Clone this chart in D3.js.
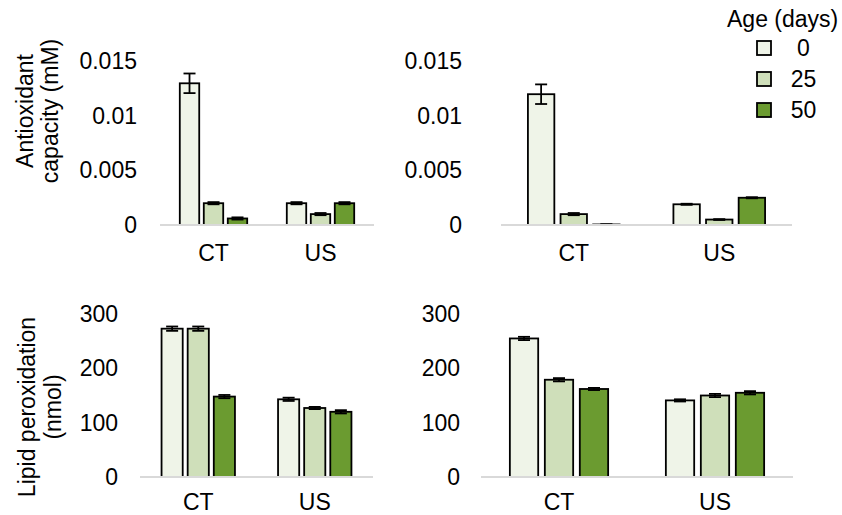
<!DOCTYPE html>
<html>
<head>
<meta charset="utf-8">
<script src="https://cdn.jsdelivr.net/npm/d3@7"></script>
<style>
  body { margin: 0; background: #fff; }
  svg text { font-family: "Liberation Sans", Arial, sans-serif; fill: #000; }
</style>
</head>
<body>
<div id="chart"></div>
<script>
// data
const categories = ['CT', 'US'];
const ages = ['0', '25', '50'];

// [category][age]
const antioxLeftMean = [[0.013, 0.002, 0.0006], [0.002, 0.001, 0.002]];
const antioxLeftErr = [[0.0009, 0.0001, 0.0001], [0.0001, 0.0001, 0.0001]];
const antioxRightMean = [[0.012, 0.001, 0.00005], [0.0019, 0.0005, 0.0025]];
const antioxRightErr = [[0.0009, 0.0001, 0.00002], [0.00005, 0.00004, 0.00005]];
const lipidLeftMean = [[273, 273, 148], [143, 127, 120]];
const lipidLeftErr = [[4, 4, 3], [3, 2, 3]];
const lipidRightMean = [[255, 179, 162], [141, 150, 155]];
const lipidRightErr = [[3, 3, 2], [2, 3, 3]];

const antioxTicks = [0, 0.005, 0.01, 0.015];
const antioxTickLabels = ['0', '0.005', '0.01', '0.015'];
const lipidTicks = [0, 100, 200, 300];
const lipidTickLabels = ['0', '100', '200', '300'];

const colors = ['#eff4e8', '#cfdfba', '#6b9b30'];

const width = 842, height = 515;
const fontSize = 23;

const svg = d3.select('#chart').append('svg')
    .attr('width', width)
    .attr('height', height);

function panel(cfg) {
    const x0 = d3.scaleBand()
        .domain(categories)
        .range(cfg.xRange)
        .paddingInner(0)
        .paddingOuter(0);
    const bw = x0.bandwidth();
    const groupW = bw * 0.63;
    const x1 = d3.scaleBand()
        .domain(ages)
        .range([(bw - groupW) / 2, (bw + groupW) / 2])
        .paddingInner(0.19);

    const y = d3.scaleLinear()
        .domain(cfg.yDomain)
        .range(cfg.yRange);

    const g = svg.append('g');

    // y tick labels only (no axis line)
    const axisY = d3.axisLeft(y)
        .tickValues(cfg.ticks)
        .tickFormat((d, i) => cfg.tickLabels[i])
        .tickSize(0)
        .tickPadding(0);
    const ay = g.append('g')
        .attr('transform', `translate(${cfg.tickRight},0)`)
        .call(axisY);
    ay.select('.domain').remove();
    ay.selectAll('text')
        .style('font-size', fontSize + 'px')
        .attr('font-family', null);

    const rows = [];
    categories.forEach((c, ci) => {
        ages.forEach((a, ai) => {
            rows.push({ cat: c, age: a, ai: ai, v: cfg.mean[ci][ai], e: cfg.err[ci][ai] });
        });
    });

    const base = y(0);
    g.selectAll('rect.bar')
        .data(rows)
        .enter().append('rect')
        .attr('class', 'bar')
        .attr('x', d => x0(d.cat) + x1(d.age))
        .attr('y', d => y(d.v))
        .attr('width', x1.bandwidth())
        .attr('height', d => base - y(d.v))
        .attr('fill', d => colors[d.ai])
        .attr('stroke', '#000')
        .attr('stroke-width', 1.8);

    // error bars
    const cap = 6;
    const eb = g.selectAll('g.err')
        .data(rows)
        .enter().append('g')
        .attr('class', 'err')
        .attr('transform', d => `translate(${x0(d.cat) + x1(d.age) + x1.bandwidth() / 2},0)`);
    eb.append('line')
        .attr('y1', d => y(d.v + d.e)).attr('y2', d => y(d.v - d.e))
        .attr('stroke', '#000').attr('stroke-width', 1.8);
    eb.append('line')
        .attr('x1', -cap).attr('x2', cap)
        .attr('y1', d => y(d.v + d.e)).attr('y2', d => y(d.v + d.e))
        .attr('stroke', '#000').attr('stroke-width', 1.8);
    eb.append('line')
        .attr('x1', -cap).attr('x2', cap)
        .attr('y1', d => y(d.v - d.e)).attr('y2', d => y(d.v - d.e))
        .attr('stroke', '#000').attr('stroke-width', 1.8);

    // baseline
    g.append('line')
        .attr('x1', cfg.xRange[0]).attr('x2', cfg.xRange[1])
        .attr('y1', base).attr('y2', base)
        .attr('stroke', '#d9d9d9')
        .attr('stroke-width', 2);

    // category labels
    const axisX = d3.axisBottom(x0)
        .tickSize(0)
        .tickPadding(cfg.labelPad);
    const ax = g.append('g')
        .attr('transform', `translate(0,${base})`)
        .call(axisX);
    ax.select('.domain').remove();
    ax.selectAll('text')
        .style('font-size', fontSize + 'px')
        .attr('font-family', null);
}

panel({ xRange: [160, 374], yDomain: [0, 0.015], yRange: [225, 61.5], tickRight: 137, labelPad: 20,
        ticks: antioxTicks, tickLabels: antioxTickLabels, mean: antioxLeftMean, err: antioxLeftErr });
panel({ xRange: [501, 792], yDomain: [0, 0.015], yRange: [225, 61.5], tickRight: 462, labelPad: 20,
        ticks: antioxTicks, tickLabels: antioxTickLabels, mean: antioxRightMean, err: antioxRightErr });
panel({ xRange: [140, 373], yDomain: [0, 300], yRange: [477, 314], tickRight: 118, labelPad: 16.5,
        ticks: lipidTicks, tickLabels: lipidTickLabels, mean: lipidLeftMean, err: lipidLeftErr });
panel({ xRange: [481, 793], yDomain: [0, 300], yRange: [477, 314], tickRight: 460, labelPad: 16.5,
        ticks: lipidTicks, tickLabels: lipidTickLabels, mean: lipidRightMean, err: lipidRightErr });

// y axis titles
function yTitle(lines, cx, cy, gap) {
    const t = svg.append('text')
        .attr('transform', `translate(${cx},${cy}) rotate(-90)`)
        .attr('text-anchor', 'middle')
        .style('font-size', fontSize + 'px');
    lines.forEach((l, i) => {
        t.append('tspan')
            .attr('x', 0)
            .attr('y', (i - (lines.length - 1) / 2) * gap)
            .attr('dy', '0.35em')
            .text(l);
    });
}
yTitle(['Antioxidant', 'capacity (mM)'], 37.5, 111, 25);
yTitle(['Lipid peroxidation', '(nmol)'], 40, 407, 26);

// legend
const legend = svg.append('g');
legend.append('text')
    .attr('x', 727).attr('y', 19).attr('dy', '0.35em')
    .style('font-size', fontSize + 'px')
    .text('Age (days)');
const items = legend.selectAll('g.item')
    .data(ages)
    .enter().append('g')
    .attr('class', 'item')
    .attr('transform', (d, i) => `translate(0,${48 + i * 31})`);
items.append('rect')
    .attr('x', 757).attr('y', -7)
    .attr('width', 14).attr('height', 14)
    .attr('fill', (d, i) => colors[i])
    .attr('stroke', '#000')
    .attr('stroke-width', 1.8);
items.append('text')
    .attr('x', 803.5).attr('dy', '0.35em')
    .attr('text-anchor', 'middle')
    .style('font-size', fontSize + 'px')
    .text(d => d);
</script>
</body>
</html>
